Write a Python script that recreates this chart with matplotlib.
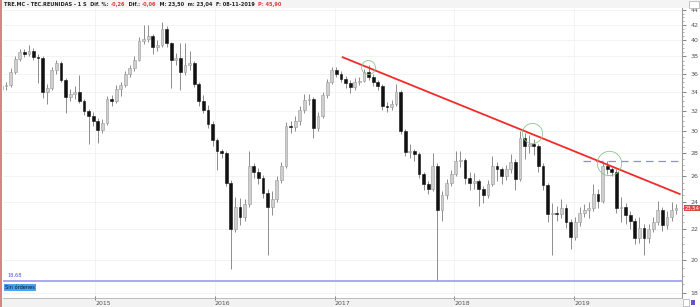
import matplotlib
matplotlib.use("Agg")
import matplotlib.pyplot as plt
import matplotlib.dates as mdates
from matplotlib.ticker import FixedLocator, NullFormatter
from matplotlib.lines import Line2D
from matplotlib.patches import Rectangle
import pandas as pd


# biweekly candles
FIRST_CANDLE = "2014-03-21"
CANDLE_STEP = "14D"
FIRST_OPEN = 34.3

CLOSES = [
    34.6, 34.7, 36.2, 37.7, 38.5, 38.3, 38.7, 37.9, 37.8, 34.0,
    34.4, 36.4, 37.2, 35.3, 33.4, 33.7, 34.0, 33.0, 32.0, 31.5,
    31.0, 30.1, 30.8, 33.2, 33.0, 34.3, 34.7, 35.9, 36.6, 37.6,
    39.9, 40.2, 40.5, 39.1, 39.4, 41.5, 39.6, 37.6, 37.8, 36.2,
    37.0, 37.2, 34.8, 33.0, 32.1, 30.7, 29.2, 28.2, 28.0, 25.5,
    22.0, 23.6, 22.9, 23.8, 26.9, 26.4, 25.9, 24.7, 23.6, 24.2,
    25.7, 26.9, 30.5, 30.4, 31.0, 32.1, 33.1, 33.2, 30.3, 31.5,
    33.6, 35.0, 36.4, 36.0, 35.4, 34.9, 34.5, 35.1, 35.2, 36.2,
    35.6, 35.0, 34.6, 32.5, 32.4, 32.7, 34.0, 30.0, 28.1, 28.2,
    27.9, 26.2, 25.4, 25.0, 26.9, 23.4, 24.5, 25.5, 26.2, 27.3,
    27.4, 25.9, 25.5, 25.6, 25.0, 24.5, 25.4, 26.9, 26.6, 26.0,
    26.6, 27.2, 25.8, 29.4, 28.6, 28.8, 28.6, 26.9, 25.3, 23.1,
    23.2, 23.1, 23.5, 22.5, 21.5, 22.5, 23.2, 23.4, 23.5, 24.6,
    24.1, 26.9, 26.6, 26.4, 23.5, 23.6, 23.0, 22.6, 21.4, 22.1,
    21.4, 22.0, 22.5, 23.4, 22.3, 22.9, 23.4, 23.54,
]

HIGHS = [
    35.0, 35.1, 36.6, 38.0, 38.9, 38.9, 39.4, 39.0, 38.3, 38.0,
    34.8, 36.7, 37.6, 37.4, 35.5, 34.3, 34.6, 35.8, 33.2, 32.2,
    31.9, 31.3, 31.2, 33.5, 33.6, 34.7, 35.1, 36.3, 37.0, 38.0,
    40.4, 41.9, 41.9, 40.8, 40.0, 42.4, 41.8, 39.8, 38.4, 39.6,
    39.6, 38.6, 37.4, 35.1, 33.6, 32.6, 31.0, 29.4, 28.4, 28.2,
    25.7, 24.4, 24.3, 24.2, 28.2, 27.1, 26.7, 26.1, 25.0, 24.8,
    26.0, 27.2, 30.9, 31.0, 31.5, 32.5, 33.7, 33.7, 33.4, 31.9,
    34.0, 35.4, 36.8, 36.7, 36.3, 35.7, 35.3, 35.5, 35.6, 36.5,
    37.0, 35.9, 35.3, 34.8, 32.9, 33.1, 34.8, 34.2, 30.2, 28.8,
    28.4, 28.1, 26.4, 25.6, 28.0, 27.1, 24.8, 25.8, 26.5, 28.2,
    28.2, 27.6, 26.4, 26.3, 25.8, 25.2, 25.7, 27.7, 27.2, 26.8,
    27.0, 27.9, 27.5, 30.0, 29.8, 29.6, 29.3, 28.8, 27.1, 25.5,
    23.9, 23.7, 24.2, 23.8, 22.7, 22.9, 23.6, 23.8, 24.0, 25.4,
    25.0, 27.2, 27.3, 26.8, 26.6, 24.4, 23.9, 23.3, 22.8, 22.9,
    22.4, 22.4, 22.9, 24.1, 23.6, 23.3, 24.0, 23.8,
]

LOWS = [
    34.0, 34.2, 34.5, 36.0, 37.4, 37.9, 38.0, 37.6, 34.9, 33.3,
    32.7, 34.2, 36.0, 35.0, 31.8, 33.0, 33.2, 32.8, 31.6, 28.8,
    30.5, 28.9, 29.8, 30.6, 32.5, 32.8, 33.5, 34.5, 35.6, 36.3,
    37.4, 39.5, 39.8, 38.3, 38.7, 39.2, 39.2, 34.4, 37.0, 34.2,
    35.8, 36.4, 34.5, 32.5, 31.8, 30.3, 28.6, 26.5, 27.6, 25.2,
    19.4, 21.8, 22.3, 22.6, 23.6, 25.9, 25.4, 24.3, 20.3, 23.0,
    24.0, 25.5, 26.7, 29.8, 30.0, 30.6, 31.8, 32.6, 29.4, 30.0,
    31.3, 33.3, 34.8, 35.6, 35.0, 34.4, 33.9, 34.2, 34.7, 35.0,
    35.3, 34.6, 34.2, 32.1, 31.9, 32.1, 32.5, 29.7, 27.7, 27.6,
    27.3, 25.9, 24.9, 24.6, 24.8, 18.7, 22.6, 24.2, 25.2, 26.0,
    26.8, 25.4, 24.9, 25.0, 23.7, 23.9, 24.3, 25.2, 25.6, 25.4,
    25.7, 26.3, 24.9, 25.6, 27.5, 28.0, 27.8, 26.4, 24.9, 22.5,
    20.3, 22.6, 22.8, 22.1, 20.7, 21.3, 22.2, 22.9, 22.8, 23.3,
    23.5, 23.9, 26.2, 26.0, 23.2, 22.5, 22.4, 22.0, 21.0, 21.1,
    20.3, 21.1, 21.8, 22.3, 21.9, 22.0, 22.6, 23.1,
]

TREND_DATES = ["2017-01-25", "2019-11-19"]
TREND_PRICES = [37.9, 24.6]
RESIST_DATES = ["2019-01-28", "2019-11-19"]
RESIST_PRICE = 27.3
SUPPORT_PRICE = 18.68
TOUCH_DATES = ["2017-04-13", "2018-08-27", "2019-04-17"]
TOUCH_PRICES = [36.8, 29.8, 27.1]
TOUCH_SIZES = [10, 14.5, 17.5]
LAST_PRICE = 23.54

YEARS = [2015, 2016, 2017, 2018, 2019]
PRICE_TICKS = list(range(18, 46, 2))

HEADER = [
    ("TRE.MC - TEC.REUNIDAS - 1 S  Dif. %: ", "#222222"),
    ("-0,26", "#e03a3a"),
    ("  Dif.: ", "#222222"),
    ("-0,06", "#e03a3a"),
    ("  M: 23,50  m: 23,04  F: 08-11-2019  ", "#222222"),
    ("P: 45,90", "#e03a3a"),
]

W, H = 700, 307
fig = plt.figure(figsize=(W / 100, H / 100), dpi=100)
fig.patch.set_facecolor("white")
ax = fig.add_axes([3 / W, 9 / H, 679 / W, 290 / H])

dates = pd.date_range(FIRST_CANDLE, periods=len(CLOSES), freq=CANDLE_STEP)
x = mdates.date2num(dates)
opens = [FIRST_OPEN] + CLOSES[:-1]
width = 8.5

ax.vlines(x, LOWS, HIGHS, color="#858585", linewidth=0.65, zorder=2)
for xi, o, c in zip(x, opens, CLOSES):
    lo, hi = min(o, c), max(o, c)
    if hi - lo < 0.08:
        hi = lo + 0.08
    if c >= o:
        ax.bar(xi, hi - lo, bottom=lo, width=width, color="#cfcfcf",
               edgecolor="#9a9a9a", linewidth=0.4, zorder=3)
    else:
        ax.bar(xi, hi - lo, bottom=lo, width=width, color="#111111",
               edgecolor="#111111", linewidth=0.4, zorder=3)

trend_x = mdates.date2num(pd.to_datetime(TREND_DATES))
ax.plot(trend_x, TREND_PRICES, color="#f22a2a", linewidth=1.3, zorder=5)

resist_x = mdates.date2num(pd.to_datetime(RESIST_DATES))
ax.plot(resist_x, [RESIST_PRICE, RESIST_PRICE], color="#8a8af0",
        linewidth=0.9, linestyle=(0, (6, 4)), zorder=4)

ax.axhline(SUPPORT_PRICE, color="#9a9af5", linewidth=1.2, zorder=4)

touch_x = mdates.date2num(pd.to_datetime(TOUCH_DATES))
for tx, tp, ms in zip(touch_x, TOUCH_PRICES, TOUCH_SIZES):
    ax.plot(tx, tp, "o", markersize=ms, markerfacecolor="none",
            markeredgecolor="#8cc48c", markeredgewidth=0.6, zorder=6)

ax.set_yscale("log")
ax.set_ylim(17.71, 44.28)
ax.set_xlim(mdates.date2num(pd.Timestamp("2014-03-26")),
            mdates.date2num(pd.Timestamp("2019-11-26")))

ax.yaxis.tick_right()
ax.yaxis.set_major_locator(FixedLocator(PRICE_TICKS))
ax.yaxis.set_minor_locator(FixedLocator([v / 2 for v in range(36, 89)]))
ax.yaxis.set_major_formatter(plt.FuncFormatter(lambda v, p: f"{v:.0f}"))
ax.yaxis.set_minor_formatter(NullFormatter())
ax.tick_params(axis="y", which="major", labelsize=4.5, length=3, pad=3,
               colors="#555555", width=0.5)
ax.tick_params(axis="y", which="minor", length=1.5, colors="#777777", width=0.4)

year_x = mdates.date2num(pd.to_datetime([f"{y}-01-01" for y in YEARS]))
ax.set_xticks(year_x)
ax.set_xticklabels([str(y) for y in YEARS], ha="left")
ax.tick_params(axis="x", labelsize=4.5, length=3, pad=1, colors="#555555",
               width=0.5, direction="inout")

ax.grid(True, which="major", color="#f1f1f1", linewidth=0.6, zorder=0)
for side in ("top", "left"):
    ax.spines[side].set_visible(False)
ax.spines["right"].set_color("#9a9a9a")
ax.spines["right"].set_linewidth(0.8)
ax.spines["bottom"].set_color("#b4b4b4")
ax.spines["bottom"].set_linewidth(0.6)

# bottom axis strip
fig.add_artist(Rectangle((0, 0), 683 / W, 9 / H, transform=fig.transFigure,
                         facecolor="#f2f2f2", edgecolor="none", zorder=0))
# header strip
fig.add_artist(Rectangle((0, 1 - 8 / H), 1, 8 / H, transform=fig.transFigure,
                         facecolor="#f4f4f4", edgecolor="none", zorder=0))
fig.add_artist(Line2D([0.5 / W, 0.5 / W], [0, 1], color="#d98080",
                      linewidth=1.4, transform=fig.transFigure))

prev = fig.text(4 / W, 1 - 4.2 / H, HEADER[0][0], fontsize=3.6,
                fontweight="bold", color=HEADER[0][1], va="center")
for text, color in HEADER[1:]:
    prev = ax.annotate(text, xy=(1, 0), xycoords=prev, va="bottom",
                       fontsize=3.6, fontweight="bold", color=color,
                       annotation_clip=False)

# support label and order box
ax.text(4 / 679, SUPPORT_PRICE * 1.012, "18,68", fontsize=3.6,
        color="#5050e0", transform=ax.get_yaxis_transform(), va="bottom")
fig.text(5 / W, 1 - 287.5 / H, "Sin órdenes", fontsize=3.6, color="#111111",
         va="center", bbox=dict(boxstyle="square,pad=0.25", facecolor="#4aa3f0",
                                edgecolor="none"))

# last price label
ax.annotate(f"{LAST_PRICE:.2f}".replace(".", ","), xy=(1.0, LAST_PRICE),
            xycoords=ax.get_yaxis_transform(), xytext=(2, 0),
            textcoords="offset points", fontsize=3.8, color="white",
            va="center", ha="left", annotation_clip=False, zorder=10,
            bbox=dict(boxstyle="square,pad=0.15", facecolor="#e04848",
                      edgecolor="none"))

# corner widgets
fig.add_artist(Rectangle((689 / W, 1 - 8 / H), 10 / W, 7 / H,
                         transform=fig.transFigure, facecolor="white",
                         edgecolor="#aaaaaa", linewidth=0.5))
fig.add_artist(Rectangle((683 / W, 1 / H), 6 / W, 7 / H,
                         transform=fig.transFigure, facecolor="white",
                         edgecolor="#aaaaaa", linewidth=0.5))
fig.add_artist(Rectangle((690.5 / W, 2 / H), 4 / W, 5 / H,
                         transform=fig.transFigure, facecolor="#6a4fd0",
                         edgecolor="none"))

fig.savefig("out.png", dpi=100)
plt.close(fig)
